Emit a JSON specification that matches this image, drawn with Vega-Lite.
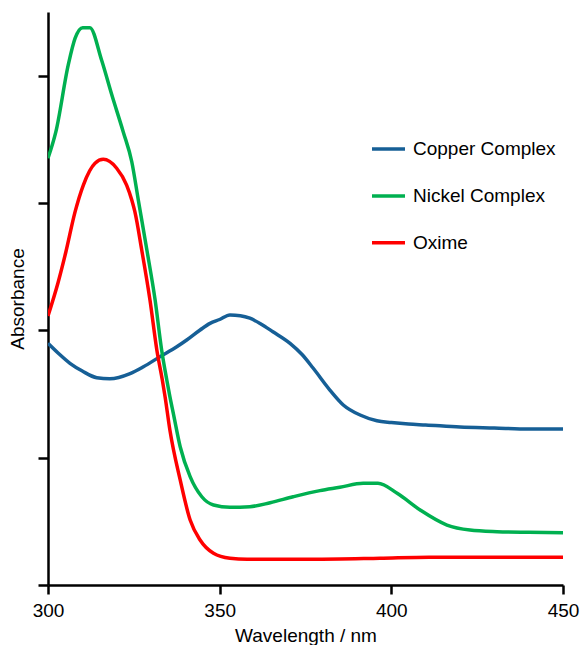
{
  "$schema": "https://vega.github.io/schema/vega-lite/v6.json",
  "width": 515,
  "height": 573,
  "autosize": "none",
  "padding": {"left": 48, "top": 12, "right": 18, "bottom": 60},
  "background": "white",
  "config": {
    "view": {"stroke": null},
    "font": "Liberation Sans",
    "axis": {"domainColor": "black", "tickColor": "black", "domainWidth": 2.5, "tickWidth": 2.5, "grid": false, "labelColor": "black", "titleColor": "black", "labelFont": "Liberation Sans", "titleFont": "Liberation Sans", "titleFontWeight": "normal", "labelFontSize": 19, "titleFontSize": 19}
  },
  "data": {"values": [
    {"series": "Copper Complex", "wl": 300, "abs": 1.898},
    {"series": "Copper Complex", "wl": 303, "abs": 1.82},
    {"series": "Copper Complex", "wl": 306.4, "abs": 1.741},
    {"series": "Copper Complex", "wl": 310, "abs": 1.68},
    {"series": "Copper Complex", "wl": 314.2, "abs": 1.628},
    {"series": "Copper Complex", "wl": 318, "abs": 1.62},
    {"series": "Copper Complex", "wl": 323.9, "abs": 1.66},
    {"series": "Copper Complex", "wl": 327.8, "abs": 1.714},
    {"series": "Copper Complex", "wl": 332.6, "abs": 1.793},
    {"series": "Copper Complex", "wl": 337.5, "abs": 1.871},
    {"series": "Copper Complex", "wl": 340.4, "abs": 1.924},
    {"series": "Copper Complex", "wl": 344.3, "abs": 2.003},
    {"series": "Copper Complex", "wl": 347.2, "abs": 2.055},
    {"series": "Copper Complex", "wl": 350, "abs": 2.085},
    {"series": "Copper Complex", "wl": 353, "abs": 2.121},
    {"series": "Copper Complex", "wl": 356, "abs": 2.115},
    {"series": "Copper Complex", "wl": 358.8, "abs": 2.095},
    {"series": "Copper Complex", "wl": 362, "abs": 2.05},
    {"series": "Copper Complex", "wl": 365.5, "abs": 1.989},
    {"series": "Copper Complex", "wl": 370.5, "abs": 1.898},
    {"series": "Copper Complex", "wl": 374, "abs": 1.81},
    {"series": "Copper Complex", "wl": 377.2, "abs": 1.704},
    {"series": "Copper Complex", "wl": 382.1, "abs": 1.531},
    {"series": "Copper Complex", "wl": 386, "abs": 1.414},
    {"series": "Copper Complex", "wl": 390.9, "abs": 1.335},
    {"series": "Copper Complex", "wl": 395.8, "abs": 1.29},
    {"series": "Copper Complex", "wl": 400, "abs": 1.276},
    {"series": "Copper Complex", "wl": 405, "abs": 1.264},
    {"series": "Copper Complex", "wl": 410, "abs": 1.257},
    {"series": "Copper Complex", "wl": 420, "abs": 1.241},
    {"series": "Copper Complex", "wl": 430, "abs": 1.233},
    {"series": "Copper Complex", "wl": 440, "abs": 1.225},
    {"series": "Copper Complex", "wl": 450, "abs": 1.225},
    {"series": "Nickel Complex", "wl": 300, "abs": 3.351},
    {"series": "Nickel Complex", "wl": 302.3, "abs": 3.56},
    {"series": "Nickel Complex", "wl": 305.9, "abs": 4.084},
    {"series": "Nickel Complex", "wl": 307.9, "abs": 4.294},
    {"series": "Nickel Complex", "wl": 310.1, "abs": 4.377},
    {"series": "Nickel Complex", "wl": 312.2, "abs": 4.377},
    {"series": "Nickel Complex", "wl": 315.6, "abs": 4.123},
    {"series": "Nickel Complex", "wl": 318.6, "abs": 3.848},
    {"series": "Nickel Complex", "wl": 321.9, "abs": 3.56},
    {"series": "Nickel Complex", "wl": 324.4, "abs": 3.324},
    {"series": "Nickel Complex", "wl": 326.3, "abs": 3.024},
    {"series": "Nickel Complex", "wl": 328.8, "abs": 2.631},
    {"series": "Nickel Complex", "wl": 331.2, "abs": 2.238},
    {"series": "Nickel Complex", "wl": 333.1, "abs": 1.846},
    {"series": "Nickel Complex", "wl": 334.6, "abs": 1.61},
    {"series": "Nickel Complex", "wl": 335.5, "abs": 1.479},
    {"series": "Nickel Complex", "wl": 336.5, "abs": 1.348},
    {"series": "Nickel Complex", "wl": 338.5, "abs": 1.086},
    {"series": "Nickel Complex", "wl": 341.4, "abs": 0.851},
    {"series": "Nickel Complex", "wl": 344.8, "abs": 0.693},
    {"series": "Nickel Complex", "wl": 348.2, "abs": 0.628},
    {"series": "Nickel Complex", "wl": 353, "abs": 0.61},
    {"series": "Nickel Complex", "wl": 358.8, "abs": 0.615},
    {"series": "Nickel Complex", "wl": 364.7, "abs": 0.646},
    {"series": "Nickel Complex", "wl": 371.4, "abs": 0.693},
    {"series": "Nickel Complex", "wl": 379.2, "abs": 0.741},
    {"series": "Nickel Complex", "wl": 385, "abs": 0.767},
    {"series": "Nickel Complex", "wl": 391.8, "abs": 0.799},
    {"series": "Nickel Complex", "wl": 396.1, "abs": 0.799},
    {"series": "Nickel Complex", "wl": 401.7, "abs": 0.72},
    {"series": "Nickel Complex", "wl": 408.4, "abs": 0.589},
    {"series": "Nickel Complex", "wl": 416.2, "abs": 0.471},
    {"series": "Nickel Complex", "wl": 422.9, "abs": 0.432},
    {"series": "Nickel Complex", "wl": 430.8, "abs": 0.419},
    {"series": "Nickel Complex", "wl": 440, "abs": 0.414},
    {"series": "Nickel Complex", "wl": 450, "abs": 0.411},
    {"series": "Oxime", "wl": 300, "abs": 2.113},
    {"series": "Oxime", "wl": 302.9, "abs": 2.372},
    {"series": "Oxime", "wl": 305.2, "abs": 2.615},
    {"series": "Oxime", "wl": 307.9, "abs": 2.932},
    {"series": "Oxime", "wl": 310.3, "abs": 3.141},
    {"series": "Oxime", "wl": 313.7, "abs": 3.312},
    {"series": "Oxime", "wl": 316.1, "abs": 3.343},
    {"series": "Oxime", "wl": 320, "abs": 3.273},
    {"series": "Oxime", "wl": 322.9, "abs": 3.141},
    {"series": "Oxime", "wl": 324.4, "abs": 3.024},
    {"series": "Oxime", "wl": 325.3, "abs": 2.932},
    {"series": "Oxime", "wl": 327.3, "abs": 2.631},
    {"series": "Oxime", "wl": 329.7, "abs": 2.238},
    {"series": "Oxime", "wl": 331.7, "abs": 1.846},
    {"series": "Oxime", "wl": 333.3, "abs": 1.61},
    {"series": "Oxime", "wl": 334.1, "abs": 1.479},
    {"series": "Oxime", "wl": 335.5, "abs": 1.217},
    {"series": "Oxime", "wl": 338.5, "abs": 0.825},
    {"series": "Oxime", "wl": 341.4, "abs": 0.51},
    {"series": "Oxime", "wl": 344.3, "abs": 0.353},
    {"series": "Oxime", "wl": 348.2, "abs": 0.249},
    {"series": "Oxime", "wl": 353, "abs": 0.21},
    {"series": "Oxime", "wl": 358, "abs": 0.202},
    {"series": "Oxime", "wl": 377, "abs": 0.202},
    {"series": "Oxime", "wl": 396.7, "abs": 0.21},
    {"series": "Oxime", "wl": 411, "abs": 0.218},
    {"series": "Oxime", "wl": 450, "abs": 0.218}
  ]},
  "mark": {"type": "line", "strokeWidth": 3.5, "interpolate": "monotone", "strokeJoin": "round", "clip": true},
  "encoding": {
    "x": {"field": "wl", "type": "quantitative", "title": "Wavelength / nm",
          "scale": {"domain": [300, 450], "nice": false, "zero": false},
          "axis": {"values": [300, 350, 400, 450], "tickSize": 9, "labelPadding": 7, "titlePadding": 6, "labelFlush": false}},
    "y": {"field": "abs", "type": "quantitative", "title": "Absorbance",
          "scale": {"domain": [0, 4.5], "nice": false},
          "axis": {"values": [0, 1, 2, 3, 4], "labels": false, "tickSize": 10, "titlePadding": 9}},
    "color": {"field": "series", "type": "nominal",
              "scale": {"domain": ["Copper Complex", "Nickel Complex", "Oxime"], "range": ["#165f96", "#00b050", "#ff0000"]},
              "legend": {"title": null, "orient": "none", "legendX": 322, "legendY": 118.5, "symbolType": "stroke", "symbolSize": 1089, "symbolStrokeWidth": 3.5, "labelFontSize": 19, "labelFont": "Liberation Sans", "labelColor": "black", "labelOffset": 6, "rowPadding": 17.9, "padding": 0}},
    "order": {"field": "wl", "type": "quantitative"}
  }
}
